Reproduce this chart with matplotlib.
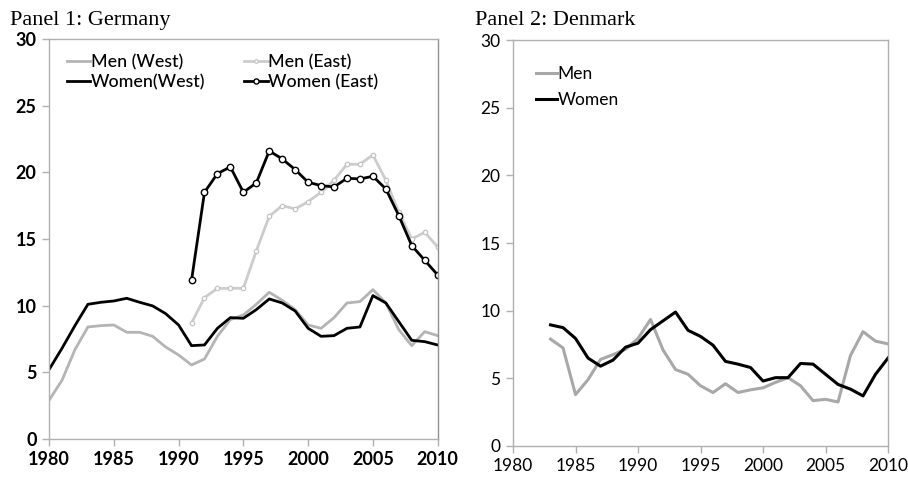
import matplotlib
matplotlib.use("Agg")
import matplotlib.pyplot as plt

# Panel 1: Germany
years_de = list(range(1980, 2011))
men_west = [2.9, 4.4, 6.7, 8.4, 8.5, 8.55, 8.0, 8.0, 7.7, 6.9, 6.3, 5.55, 6.0, 7.7, 8.95,
            9.3, 10.1, 11.0, 10.4, 9.7, 8.55, 8.3, 9.1, 10.2, 10.3, 11.2, 10.2, 8.2, 7.0, 8.05, 7.75]
women_west = [5.2, 6.8, 8.5, 10.1, 10.25, 10.35, 10.55, 10.25, 9.98, 9.4, 8.55, 7.0, 7.05, 8.3, 9.1,
              9.05, 9.7, 10.5, 10.2, 9.6, 8.3, 7.7, 7.75, 8.3, 8.4, 10.75, 10.2, 8.8, 7.4, 7.3, 7.05]
years_east = list(range(1991, 2011))
men_east = [8.7, 10.6, 11.3, 11.3, 11.3, 14.1, 16.7, 17.5, 17.25, 17.8, 18.5, 19.4, 20.6, 20.6,
            21.3, 19.4, 17.0, 15.0, 15.5, 14.4]
women_east = [11.9, 18.5, 19.9, 20.4, 18.5, 19.2, 21.6, 21.0, 20.2, 19.25, 19.0, 18.9, 19.55, 19.5,
              19.7, 18.75, 16.75, 14.5, 13.4, 12.3]

# Panel 2: Denmark
years_dk = list(range(1983, 2011))
men_dk = [7.9, 7.25, 3.8, 4.9, 6.4, 6.75, 7.15, 7.95, 9.35, 7.1, 5.65, 5.3, 4.45, 3.95, 4.6,
          3.95, 4.15, 4.3, 4.7, 5.05, 4.45, 3.35, 3.45, 3.25, 6.7, 8.45, 7.75, 7.55]
women_dk = [8.95, 8.75, 7.95, 6.5, 5.9, 6.35, 7.3, 7.6, 8.6, 9.25, 9.9, 8.55, 8.1, 7.45, 6.25,
            6.05, 5.8, 4.8, 5.05, 5.05, 6.1, 6.05, 5.3, 4.55, 4.2, 3.7, 5.3, 6.5]

xticks = [1980, 1985, 1990, 1995, 2000, 2005, 2010]
yticks = [0, 5, 10, 15, 20, 25, 30]

fig = plt.figure(figsize=(9.08, 4.78), dpi=100)
ax1 = fig.add_axes([0.054, 0.0816, 0.428, 0.837])
ax2 = fig.add_axes([0.565, 0.067, 0.413, 0.849])

ax1.plot(years_de, men_west, color="#b4b4b4", lw=2.0, label="Men (West)")
ax1.plot(years_east, men_east, color="#cccccc", lw=2.0, marker="o", ms=3.2,
         mfc="white", mec="#c4c4c4", mew=0.9, label="Men (East)")
ax1.plot(years_de, women_west, color="black", lw=2.0, label="Women(West)")
ax1.plot(years_east, women_east, color="black", lw=2.0, marker="o", ms=4.6,
         mfc="white", mec="black", mew=1.0, label="Women (East)")

ax2.plot(years_dk, men_dk, color="#a8a8a8", lw=2.2, label="Men")
ax2.plot(years_dk, women_dk, color="black", lw=2.2, label="Women")

for ax, bold, fs in [(ax1, "bold", 13), (ax2, "normal", 12.5)]:
    ax.set_xlim(1980, 2010)
    ax.set_ylim(0, 30)
    ax.set_xticks(xticks)
    ax.set_yticks(yticks)
    for s in ax.spines.values():
        s.set_color("#b0b0b0")
        s.set_linewidth(1.0)
    ax.tick_params(axis="both", length=5, width=1.0, color="#b0b0b0", labelsize=fs, pad=4)
    for lab in ax.get_xticklabels() + ax.get_yticklabels():
        lab.set_fontfamily("Lato")
        lab.set_fontweight(bold)

ax1.spines["right"].set_color("#909090")

h, l = ax1.get_legend_handles_labels()
order = [0, 2, 1, 3]
ax1.legend([h[i] for i in order], [l[i] for i in order], ncol=2, loc="upper left",
           bbox_to_anchor=(0.023, 0.985), borderpad=0, frameon=False, handlelength=1.3,
           handletextpad=0.05, columnspacing=2.2, labelspacing=0.25, markerscale=0.8,
           prop={"family": "Lato", "size": 12.8, "weight": "medium"})
ax2.legend(loc="upper left", bbox_to_anchor=(0.038, 0.958), borderpad=0, frameon=False,
           handlelength=1.2, handletextpad=0.05, labelspacing=0.6,
           prop={"family": "Lato", "size": 12.5})

fig.text(0.011, 0.947, "Panel 1: Germany", family="Liberation Serif", fontsize=16)
fig.text(0.523, 0.947, "Panel 2: Denmark", family="Liberation Serif", fontsize=16)

fig.savefig("out.png", dpi=100)
